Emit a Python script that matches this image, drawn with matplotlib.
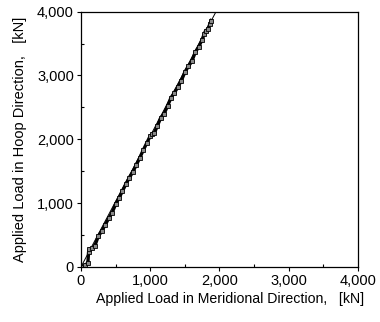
"""Hoop vs meridional applied load."""

import matplotlib

matplotlib.use("Agg")
import matplotlib.pyplot as plt
from matplotlib.ticker import FuncFormatter, MultipleLocator

# measured load path [kN]
meridional = [0, 60, 100, 110, 120, 160, 200, 250, 300, 350, 400, 450, 500,
              550, 600, 650, 700, 750, 800, 850, 900, 950, 1000, 1030, 1060,
              1100, 1150, 1200, 1250, 1300, 1350, 1400, 1450, 1500, 1550,
              1600, 1650, 1700, 1750, 1780, 1800, 1830, 1860, 1880]
hoop = [0, 30, 60, 230, 280, 290, 330, 480, 560, 660, 760, 850, 980, 1080,
        1190, 1300, 1400, 1490, 1600, 1710, 1830, 1940, 2050, 2080, 2100,
        2200, 2330, 2400, 2520, 2650, 2730, 2820, 2920, 3050, 3140, 3220,
        3360, 3450, 3560, 3650, 3700, 3720, 3800, 3860]

# target load ratio line
ref_x = [0, 2000]
ref_y = [0, 4100]

ticks = [0, 1000, 2000, 3000, 4000]

plt.rcParams["font.family"] = ["Liberation Sans", "DejaVu Sans"]

fig = plt.figure(figsize=(3.8, 3.22), dpi=100)
ax = fig.add_axes([0.213, 0.171, 0.729, 0.793])

ax.plot(ref_x, ref_y, color="black", linewidth=0.7)
ax.plot(meridional, hoop, color="black", linewidth=2.4, marker="s",
        markersize=2.2, markerfacecolor="#888888", markeredgewidth=0.6)

ax.set_xlim(0, 4000)
ax.set_ylim(0, 4000)
ax.set_xticks(ticks)
ax.set_yticks(ticks)
ax.xaxis.set_minor_locator(MultipleLocator(500))
ax.yaxis.set_minor_locator(MultipleLocator(500))
fmt = FuncFormatter(lambda v, _: f"{v:,.0f}")
ax.xaxis.set_major_formatter(fmt)
ax.yaxis.set_major_formatter(fmt)
ax.tick_params(which="major", direction="out", length=3, width=0.8,
               labelsize=10.5, pad=2)
ax.tick_params(which="minor", direction="in", length=2, width=0.8)
for spine in ax.spines.values():
    spine.set_linewidth(0.9)

ax.set_xlabel("Applied Load in Meridional Direction,   [kN]", fontsize=10.2)
ax.xaxis.set_label_coords(0.54, -0.1)
ax.set_ylabel("Applied Load in Hoop Direction,   [kN]", fontsize=10.5,
              labelpad=7)

fig.savefig("out.png", dpi=100)
